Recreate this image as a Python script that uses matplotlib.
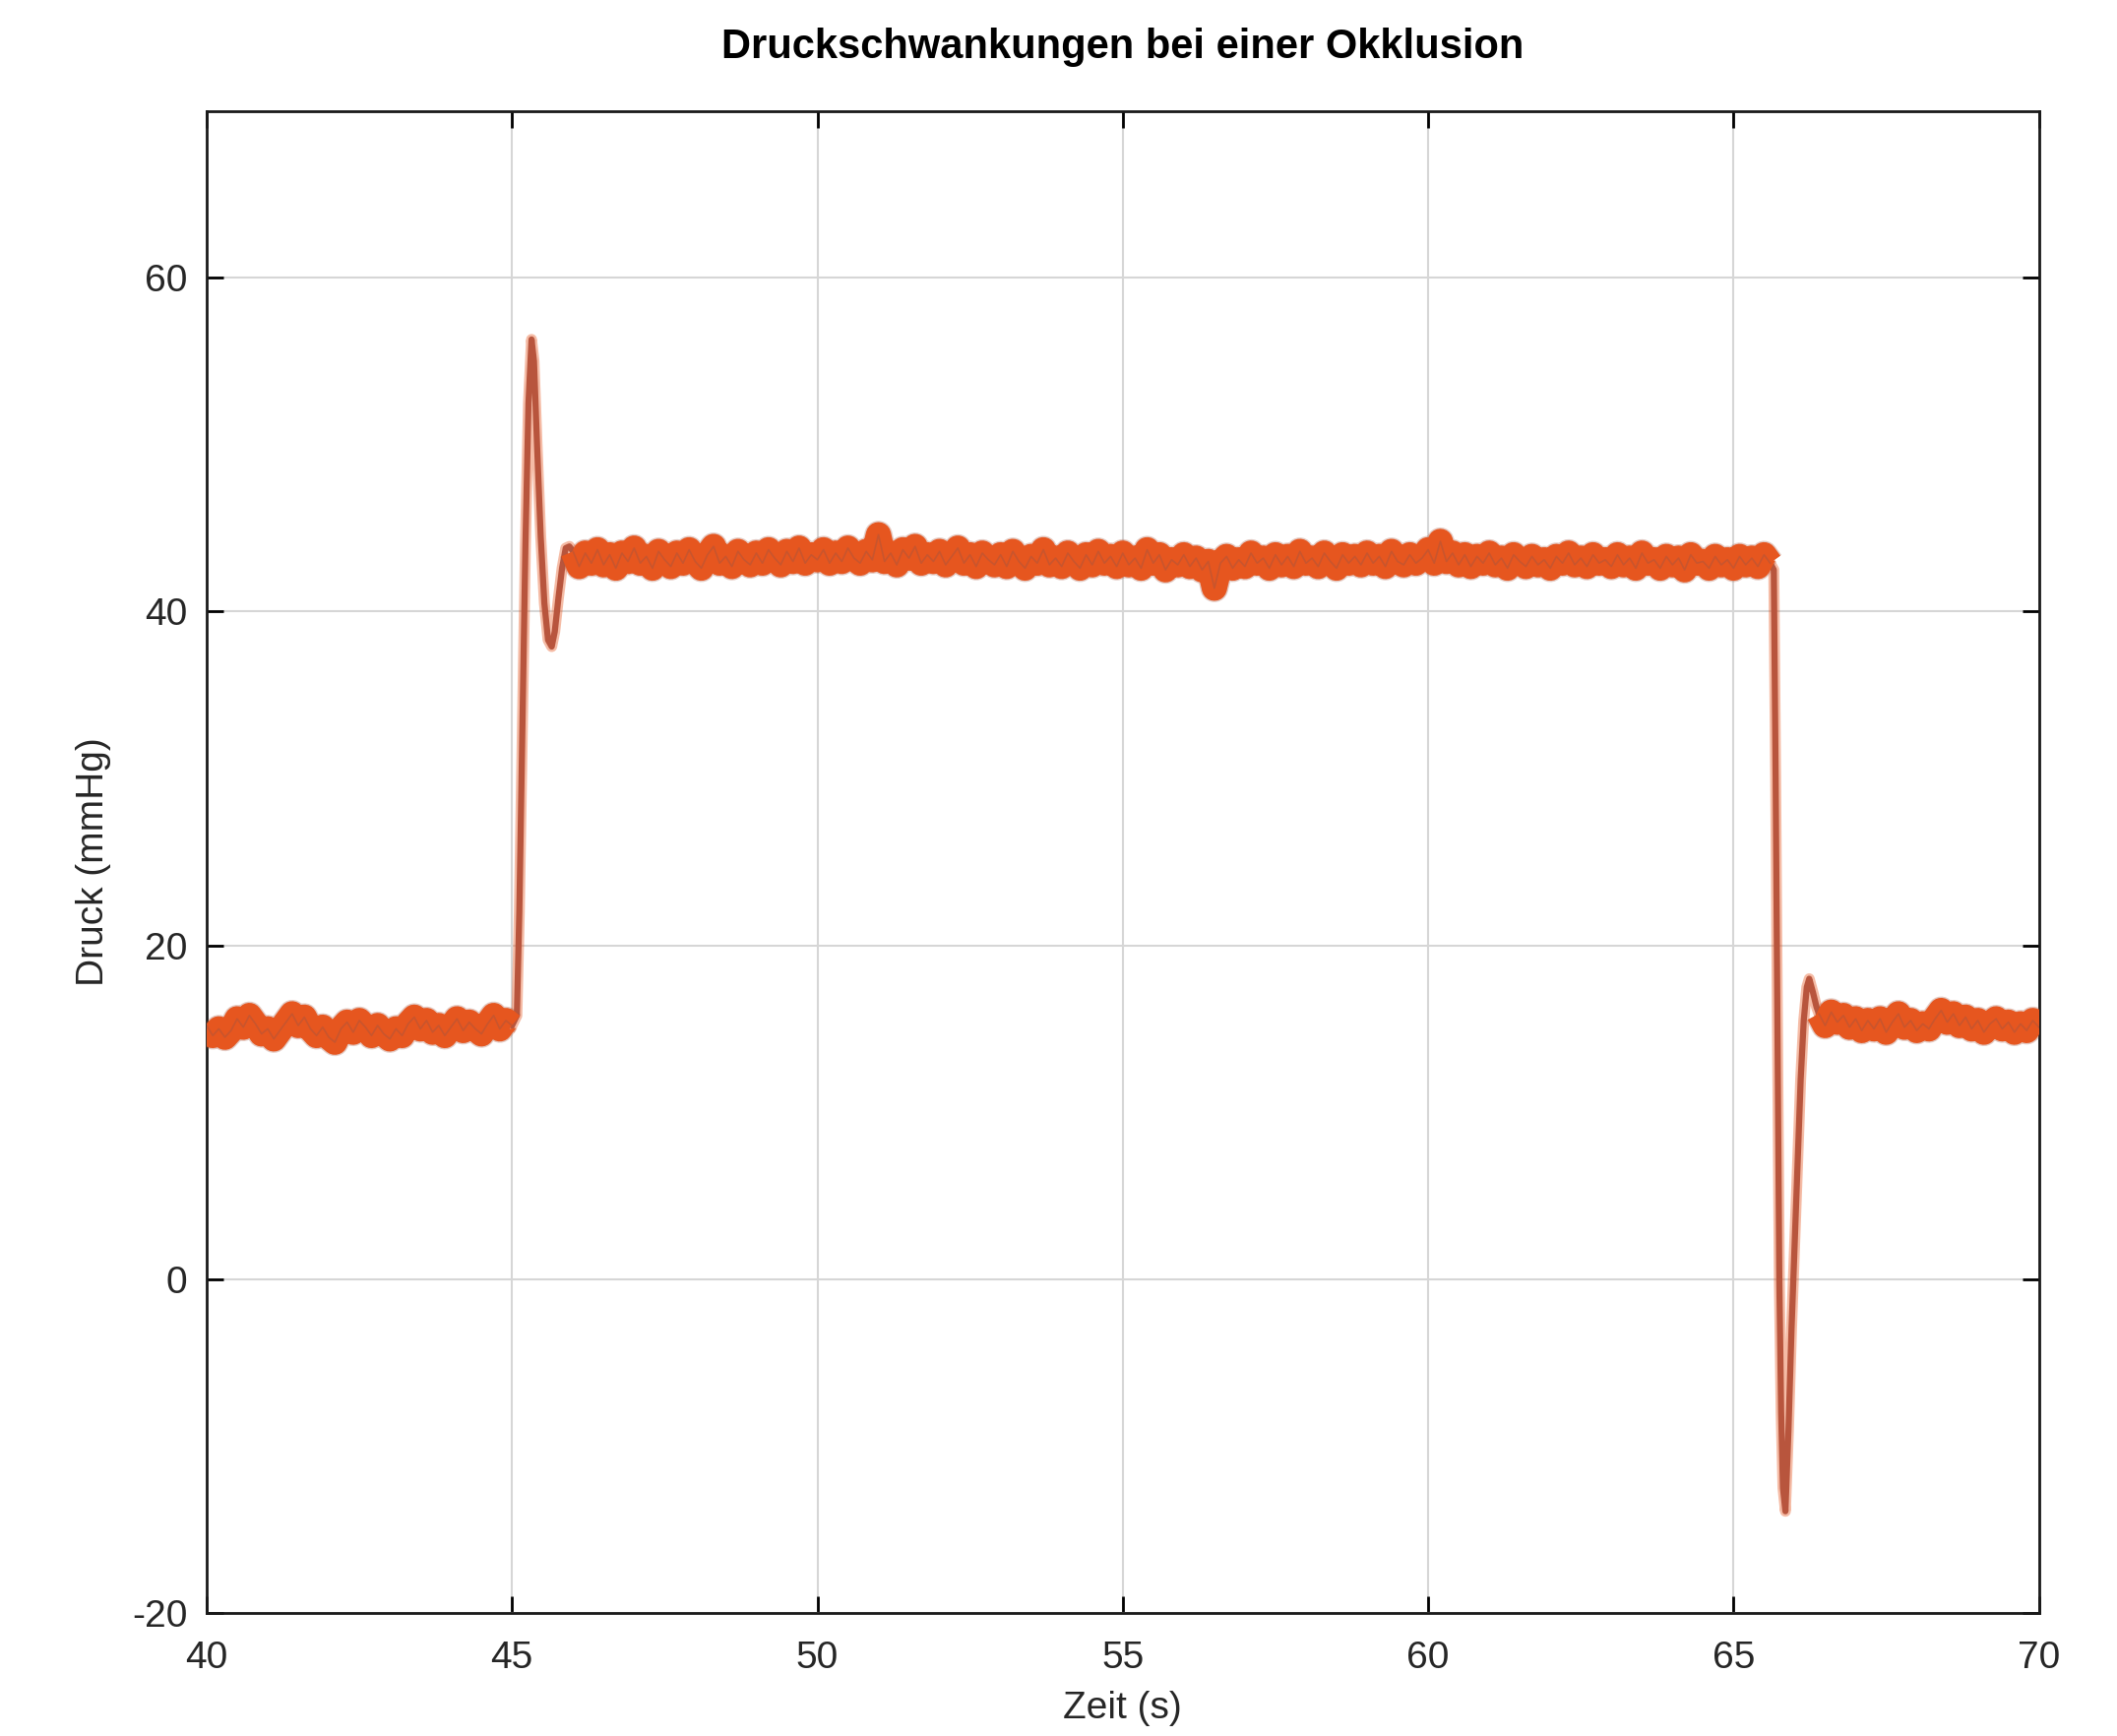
import matplotlib.pyplot as plt
import numpy as np

# Werte (Zeit in s, Druck in mmHg)
# Grundniveau vor der Okklusion, 40.0 .. 45.0 s, Abstand 0.1 s
p_base1 = [15.2, 14.6, 15.0, 14.5, 14.9, 15.6, 15.1, 15.8, 15.3, 14.7,
           15.0, 14.4, 14.9, 15.4, 15.9, 15.2, 15.7, 15.0, 14.6, 15.1,
           14.5, 14.2, 15.0, 15.4, 14.8, 15.5, 15.1, 14.6, 15.2, 14.7,
           14.4, 15.0, 14.6, 15.3, 15.7, 15.0, 15.5, 14.8, 15.2, 14.6,
           15.1, 15.6, 14.9, 15.4, 15.0, 14.7, 15.3, 15.8, 15.0, 15.5, 15.2]
t_base1 = np.linspace(40.0, 45.0, len(p_base1))

# Anstieg bei Beginn der Okklusion
t_rise = [45.0, 45.08, 45.12, 45.17, 45.22, 45.27, 45.32, 45.36, 45.41, 45.47,
          45.53, 45.59, 45.65, 45.70, 45.76, 45.82, 45.88, 45.94, 46.0]
p_rise = [15.2, 15.8, 22.0, 33.0, 44.0, 52.5, 56.3, 55.0, 50.0, 44.5,
          40.5, 38.3, 37.9, 38.8, 40.8, 42.6, 43.8, 43.9, 43.6]

# Plateau waehrend der Okklusion, 46.0 .. 65.6 s
p_plateau = [43.6, 42.7, 43.5, 42.9, 43.7, 42.8, 43.4, 42.6, 43.5, 43.0,
             43.8, 42.9, 43.3, 42.6, 43.6, 43.1, 42.7, 43.5, 42.9, 43.7,
             43.0, 42.6, 43.4, 43.9, 42.9, 43.3, 42.7, 43.6, 43.1, 42.8,
             43.5, 42.9, 43.7, 43.2, 42.8, 43.6, 43.0, 43.8, 42.9, 43.4,
             43.1, 43.7, 42.9, 43.5, 43.0, 43.8, 43.2, 42.9, 43.6, 43.1,
             44.6, 43.0, 43.5, 42.8, 43.7, 43.2, 43.9, 42.9, 43.4, 43.0,
             43.6, 42.8, 43.3, 43.8, 42.9, 43.4, 42.7, 43.5, 43.1, 42.8,
             43.4, 42.7, 43.6, 43.0, 42.6, 43.3, 42.9, 43.7, 42.8, 43.2,
             42.7, 43.5, 43.0, 42.6, 43.4, 42.8, 43.6, 42.9, 43.3, 42.7,
             43.5, 42.8, 43.2, 42.6, 43.7, 42.9, 43.4, 42.5, 43.1, 42.8,
             43.4, 42.7, 43.2, 42.5, 43.0, 41.4, 42.9, 43.3, 42.6, 43.1,
             42.7, 43.5, 42.9, 43.2, 42.6, 43.4, 42.8, 43.3, 42.7, 43.6,
             42.9, 43.2, 42.7, 43.5, 43.0, 42.6, 43.4, 42.9, 43.3, 42.8,
             43.5, 42.9, 43.3, 42.7, 43.6, 43.0, 42.8, 43.4, 42.9, 43.2,
             43.7, 42.9, 44.2, 43.0, 43.5, 42.8, 43.4, 42.7, 43.3, 42.9,
             43.5, 42.8, 43.2, 42.6, 43.4, 43.0, 42.7, 43.3, 42.8, 43.1,
             42.6, 43.3, 42.9, 43.5, 42.8, 43.2, 42.7, 43.4, 42.9, 43.1,
             42.7, 43.4, 42.8, 43.2, 42.6, 43.5, 42.9, 43.1, 42.6, 43.3,
             42.8, 43.2, 42.5, 43.4, 42.9, 43.0, 42.6, 43.3, 42.8, 43.1,
             42.6, 43.3, 42.8, 43.2, 42.7, 43.4, 42.9]
t_plateau = np.linspace(46.0, 65.6, len(p_plateau))

# Abfall nach dem Loesen der Okklusion
t_drop = [65.6, 65.66, 65.69, 65.72, 65.75, 65.78, 65.81, 65.85, 65.9, 65.95,
          66.0, 66.05, 66.1, 66.15, 66.2, 66.24, 66.3, 66.36, 66.4]
p_drop = [42.9, 42.5, 30.0, 15.0, 0.0, -8.0, -12.5, -13.9, -9.0, -3.0,
          2.0, 7.0, 12.0, 15.5, 17.5, 18.0, 17.2, 16.3, 15.9]

# Grundniveau nach der Okklusion, 66.4 .. 70.0 s
p_base2 = [15.9, 15.2, 16.0, 15.4, 15.8, 15.1, 15.6, 14.9, 15.5, 15.0,
           15.6, 14.8, 15.4, 15.9, 15.1, 15.5, 14.9, 15.3, 15.0, 15.6,
           16.1, 15.4, 15.9, 15.2, 15.7, 15.0, 15.5, 14.8, 15.3, 15.6,
           15.0, 15.4, 14.8, 15.3, 14.9, 15.5, 15.1]
t_base2 = np.linspace(66.4, 70.0, len(p_base2))

x_ticks = [40, 45, 50, 55, 60, 65, 70]
y_ticks = [-20, 0, 20, 40, 60]

band_color = '#E6561F'
edge_color = '#A5553F'
line_color = '#B8553D'

plt.rcParams['font.family'] = ['Liberation Sans', 'DejaVu Sans']
plt.rcParams['axes.unicode_minus'] = False

fig = plt.figure(figsize=(21.51, 17.64), dpi=100)
ax = fig.add_axes([0.0976, 0.0708, 0.8655, 0.8654])

# duenne Uebergaenge
for t, p in [(t_rise, p_rise), (t_drop, p_drop)]:
    ax.plot(t, p, color=band_color, lw=8, alpha=0.4, zorder=3)
    ax.plot(t, p, color=line_color, lw=4.5, zorder=4)

# verrauschte Abschnitte als breites Band
for t, p in [(t_base1, p_base1), (t_plateau, p_plateau), (t_base2, p_base2)]:
    ax.plot(t, p, color=edge_color, lw=20.5, alpha=0.3, zorder=5,
            solid_joinstyle='round', solid_capstyle='butt')
    ax.plot(t, p, color=band_color, lw=18.5, zorder=6,
            solid_joinstyle='round', solid_capstyle='butt')
    ax.plot(t, p, color=edge_color, lw=1.2, alpha=0.45, zorder=7)

ax.set_xlim(40, 70)
ax.set_ylim(-20, 70)
ax.set_xticks(x_ticks)
ax.set_yticks(y_ticks)
ax.grid(True, color='#d6d6d6', lw=1.5)
ax.set_axisbelow(True)
ax.tick_params(direction='in', length=12, width=2, top=True, right=True,
               labelsize=28, labelcolor='#262626')
ax.tick_params(axis='x', pad=20)
ax.tick_params(axis='y', pad=14)
for s in ax.spines.values():
    s.set_linewidth(2)
    s.set_color('#1a1a1a')

ax.set_xlabel('Zeit (s)', fontsize=28, color='#262626')
ax.set_ylabel('Druck (mmHg)', fontsize=28, color='#262626')
ax.xaxis.set_label_coords(0.5, -0.052)
ax.yaxis.set_label_coords(-0.052, 0.5)
ax.text(0.5, 1.042, 'Druckschwankungen bei einer Okklusion', transform=ax.transAxes,
        ha='center', va='center', fontsize=30, fontweight='bold')

fig.savefig('out.png', dpi=100)
